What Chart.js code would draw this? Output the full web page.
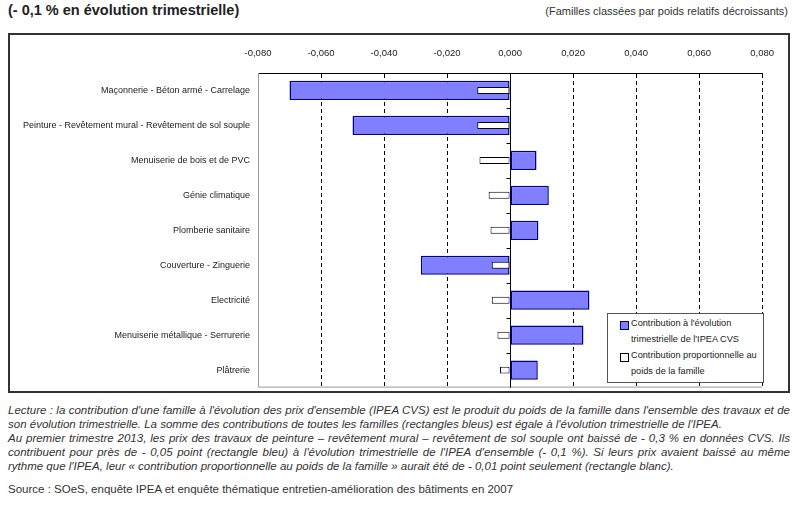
<!DOCTYPE html>
<html lang="fr">
<head>
<meta charset="utf-8">
<script src="https://cdn.jsdelivr.net/npm/chart.js@4"></script>
<style>
  body{margin:0;width:800px;height:505px;background:#fff;position:relative;overflow:hidden;font-family:"Liberation Sans",sans-serif;color:#222}
  .title{position:absolute;left:8px;top:2px;font-weight:bold;font-size:14.5px}
  .sub{position:absolute;right:12px;top:5px;font-size:11px;color:#333}
  .frame{position:absolute;left:8px;top:33px;width:782px;height:360px;border:2px solid #333;box-sizing:border-box}
  #c{display:block;position:absolute;left:10px;top:35px}
  .legend{position:absolute;left:607px;top:313px;width:157px;height:70px;background:#fff;border:1px solid #555;box-sizing:border-box;font-size:9.2px;color:#222}
  .legend .row{position:absolute;left:23px;white-space:nowrap}
  .legend .sq{position:absolute;left:-11px;top:3px;width:7px;height:7px;border:1px solid #000}
  .foot{position:absolute;left:8px;width:782px;font-style:italic;font-size:11.5px;white-space:nowrap;color:#333}
  .j{text-align:justify;text-align-last:justify}
  .src{position:absolute;left:8px;top:483px;font-size:11.5px;color:#333}
</style>
</head>
<body>
<div class="title">(- 0,1 % en évolution trimestrielle)</div>
<div class="sub">(Familles classées par poids relatifs décroissants)</div>
<div class="frame"></div>
<canvas id="c" width="778" height="366"></canvas>
<div class="legend">
  <div class="row" style="top:4px"><span class="sq" style="background:#7f7fff;border-color:#000080"></span>Contribution à l'évolution</div>
  <div class="row" style="top:20px">trimestrielle de l'IPEA CVS</div>
  <div class="row" style="top:36px"><span class="sq" style="background:#fff"></span>Contribution proportionnelle au</div>
  <div class="row" style="top:52px">poids de la famille</div>
</div>
<div class="foot j" style="top:404px">Lecture : la contribution d'une famille à l'évolution des prix d'ensemble (IPEA CVS) est le produit du poids de la famille dans l'ensemble des travaux et de</div>
<div class="foot" style="top:418px">son évolution trimestrielle. La somme des contributions de toutes les familles (rectangles bleus) est égale à l'évolution trimestrielle de l'IPEA.</div>
<div class="foot j" style="top:432px">Au premier trimestre 2013, les prix des travaux de peinture – revêtement mural – revêtement de sol souple ont baissé de - 0,3 % en données CVS. Ils</div>
<div class="foot j" style="top:446px">contribuent pour près de - 0,05 point (rectangle bleu) à l'évolution trimestrielle de l'IPEA d'ensemble (- 0,1 %). Si leurs prix avaient baissé au même</div>
<div class="foot" style="top:460px">rythme que l'IPEA, leur « contribution proportionnelle au poids de la famille » aurait été de - 0,01 point seulement (rectangle blanc).</div>
<div class="src">Source : SOeS, enquête IPEA et enquête thématique entretien-amélioration des bâtiments en 2007</div>

<script>
// familles, par poids relatif decroissant
const familles = [
  "Maçonnerie - Béton armé - Carrelage",
  "Peinture - Revêtement mural - Revêtement de sol souple",
  "Menuiserie de bois et de PVC",
  "Génie climatique",
  "Plomberie sanitaire",
  "Couverture - Zinguerie",
  "Electricité",
  "Menuiserie métallique - Serrurerie",
  "Plâtrerie"
];
// contribution a l'evolution trimestrielle (rectangles bleus)
const contribution = [-0.070, -0.050, 0.0084, 0.0123, 0.0090, -0.0283, 0.0252, 0.0233, 0.0088];
// contribution proportionnelle au poids (rectangles blancs)
const proportionnelle = [-0.0104, -0.0104, -0.0097, -0.0068, -0.0062, -0.0058, -0.0058, -0.0040, -0.0032];
const xMin = -0.08, xMax = 0.08, xStep = 0.02;

function fmt(v){
  return Math.abs(v) < 1e-9 ? "0,000" : v.toFixed(3).replace(".", ",");
}

// trait du zero, bords gris, petites graduations sur l'axe 0
const extras = {
  id: "extras",
  beforeDatasetsDraw(chart){
    const {ctx, chartArea: a, scales: {x, y}} = chart;
    const x0 = Math.round(x.getPixelForValue(0)) + 0.5;
    ctx.save();
    ctx.strokeStyle = "#999"; ctx.lineWidth = 1;
    ctx.beginPath();
    ctx.moveTo(a.left + 0.5, a.top); ctx.lineTo(a.left + 0.5, a.bottom - 0.5);
    ctx.lineTo(a.right, a.bottom - 0.5);
    ctx.stroke();
    ctx.strokeStyle = "#000";
    ctx.beginPath();
    ctx.moveTo(x0, a.top); ctx.lineTo(x0, a.bottom);
    const half = (y.getPixelForValue(1) - y.getPixelForValue(0)) / 2;
    for(let i=0;i<familles.length-1;i++){
      const py = Math.round(y.getPixelForValue(i) + half) + 0.5;
      ctx.moveTo(x0 - 4, py); ctx.lineTo(x0, py);
    }
    ctx.stroke();
    ctx.restore();
  }
};

new Chart(document.getElementById("c"), {
  type: "bar",
  data: {
    labels: familles,
    datasets: [
      {
        label: "Contribution à l'évolution trimestrielle de l'IPEA CVS",
        data: contribution,
        backgroundColor: "#7f7fff",
        borderColor: "#000080",
        borderWidth: 1.5,
        borderSkipped: false,
        grouped: false,
        barPercentage: 0.55,
        categoryPercentage: 1,
        order: 2
      },
      {
        label: "Contribution proportionnelle au poids de la famille",
        data: proportionnelle,
        backgroundColor: "#fff",
        borderColor: "#000",
        borderWidth: 1,
        borderSkipped: false,
        grouped: false,
        barPercentage: 0.2,
        categoryPercentage: 1,
        order: 1
      }
    ]
  },
  options: {
    indexAxis: "y",
    responsive: false,
    animation: false,
    layout: { padding: { left: 0, right: 22, top: 0, bottom: 4 } },
    plugins: { legend: { display: false }, tooltip: { enabled: false } },
    scales: {
      x: {
        position: "top",
        min: xMin, max: xMax,
        afterFit(s){ s.height = 38; },
        ticks: {
          stepSize: xStep,
          padding: 14,
          color: "#222",
          font: { family: "Liberation Sans", size: 9.5 },
          callback: v => fmt(v)
        },
        grid: { color: "#000", lineWidth: 1, tickLength: 0 },
        border: { display: true, color: "#000", width: 1, dash: [4, 3] }
      },
      y: {
        afterFit(s){ s.width = 248; },
        ticks: {
          padding: 8,
          color: "#222",
          font: { family: "Liberation Sans", size: 9 }
        },
        grid: { display: false, drawTicks: false, tickLength: 0 },
        border: { display: false }
      }
    }
  },
  plugins: [extras]
});
</script>
</body>
</html>
